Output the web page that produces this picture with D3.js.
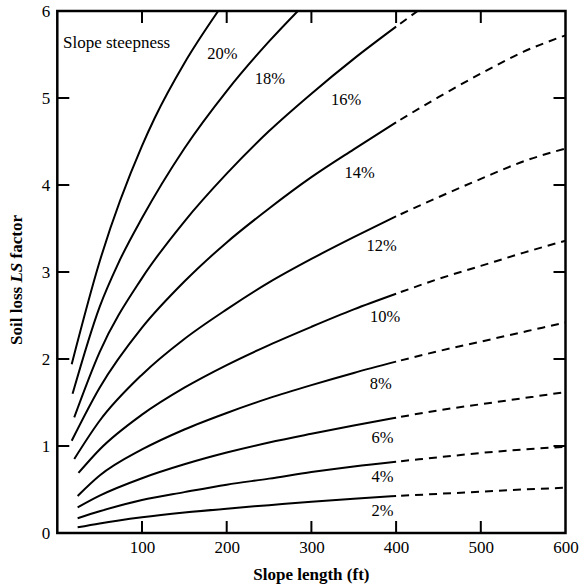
<!DOCTYPE html>
<html><head><meta charset="utf-8">
<script src="https://cdn.jsdelivr.net/npm/d3@7"></script>
<style>body{margin:0;background:#fff}svg{display:block}</style>
</head><body>
<svg id="c" width="580" height="588"></svg>
<script>
// ---- data ----
const slopeLabels = ["2%","4%","6%","8%","10%","12%","14%","16%","18%","20%"];
const solidLengths = [
  [24,50,100,150,200,250,300,350,400],
  [24,50,100,150,200,250,300,350,400],
  [24,50,100,150,200,250,300,350,400],
  [24,50,100,150,200,250,300,350,400],
  [25,50,100,150,200,250,300,350,400],
  [20,50,100,150,200,250,300,350,400],
  [17,50,100,150,200,250,300,350,400],
  [20,50,100,150,200,250,300,350,400],
  [18,50,72,100,150,200,250,284],
  [17,50,100,115,150,190]
];
const solidValues = [
  [0.065,0.11,0.18,0.235,0.28,0.32,0.36,0.395,0.425],
  [0.17,0.25,0.38,0.47,0.555,0.625,0.70,0.765,0.82],
  [0.295,0.43,0.63,0.79,0.925,1.04,1.14,1.235,1.325],
  [0.425,0.66,0.96,1.19,1.38,1.55,1.70,1.84,1.97],
  [0.69,0.96,1.36,1.67,1.93,2.16,2.37,2.57,2.75],
  [0.85,1.29,1.82,2.23,2.57,2.88,3.15,3.40,3.64],
  [1.06,1.67,2.36,2.89,3.34,3.73,4.09,4.41,4.72],
  [1.33,2.08,2.93,3.58,4.13,4.62,5.05,5.45,5.82],
  [1.60,2.60,3.10,3.62,4.42,5.08,5.65,6.0],
  [1.94,3.12,4.45,4.77,5.40,6.0]
];
const dashLengths = [400,450,500,550,600];
const dashValues = [
  [0.425,0.45,0.475,0.50,0.52],
  [0.82,0.87,0.92,0.96,0.99],
  [1.325,1.41,1.48,1.55,1.62],
  [1.97,2.09,2.20,2.31,2.42],
  [2.75,2.92,3.07,3.22,3.36],
  [3.64,3.86,4.07,4.27,4.42],
  [4.72,5.01,5.28,5.53,5.72],
  [5.82,6.17,6.50,6.82,7.13],
  null,
  null
];
const xTicks = [100,200,300,400,500,600];
const yTicks = [0,1,2,3,4,5,6];

// ---- layout ----
const labelAnchors = [[384,0.253],[384,0.655],[384,1.10],[382,1.72],[387,2.49],[383,3.31],[357,4.14],[341,4.98],[251,5.22],[195,5.51]];
const svg = d3.select("#c");
const x = d3.scaleLinear().domain([0,600]).range([57.3,565.5]);
const y = d3.scaleLinear().domain([0,6]).range([533,11]);
const serif = "'Liberation Serif','Times New Roman',serif";

svg.append("defs").append("clipPath").attr("id","pc")
  .append("rect").attr("x",x(0)).attr("y",y(6)).attr("width",x(600)-x(0)).attr("height",y(0)-y(6));

const line = d3.line().x(d=>x(d[0])).y(d=>y(d[1])).curve(d3.curveMonotoneX);
const g = svg.append("g").attr("clip-path","url(#pc)");
slopeLabels.forEach((s,i)=>{
  const pts = solidLengths[i].map((L,j)=>[L,solidValues[i][j]]);
  g.append("path").attr("d",line(pts)).attr("fill","none").attr("stroke","#000").attr("stroke-width",2);
  if (dashValues[i]) {
    const dp = dashLengths.map((L,j)=>[L,dashValues[i][j]]);
    g.append("path").attr("d",line(dp)).attr("fill","none").attr("stroke","#000")
      .attr("stroke-width",2).attr("stroke-dasharray","8,6").attr("stroke-dashoffset",-5);
  }
  svg.append("text").attr("x",x(labelAnchors[i][0])).attr("y",y(labelAnchors[i][1]))
    .attr("text-anchor","middle").attr("dominant-baseline","central")
    .attr("font-family",serif).attr("font-size",16.5).text(s);
});

// axes
const ax = svg.append("g");
const bottom = d3.axisBottom(x).tickValues(xTicks).tickSize(0).tickPadding(8).tickFormat(d3.format("d"));
ax.append("g").attr("transform",`translate(0,${y(0)})`).call(bottom)
  .call(a=>{a.select(".domain").remove();a.attr("font-family",serif).attr("font-size",17);});
const left = d3.axisLeft(y).tickValues(yTicks).tickSize(0).tickPadding(7).tickFormat(d3.format("d"));
ax.append("g").attr("transform",`translate(${x(0)},0)`).call(left)
  .call(a=>{a.select(".domain").remove();a.attr("font-family",serif).attr("font-size",17);});
ax.selectAll("text").attr("fill","#000");

// inward ticks
const tk = svg.append("g").attr("stroke","#000").attr("stroke-width",2);
[100,200,300,400,500].forEach(v=>{
  tk.append("line").attr("x1",x(v)).attr("x2",x(v)).attr("y1",y(0)).attr("y2",y(0)-12);
  tk.append("line").attr("x1",x(v)).attr("x2",x(v)).attr("y1",y(6)).attr("y2",y(6)+12);
});
[1,2,3,4,5].forEach(v=>{
  tk.append("line").attr("x1",x(0)).attr("x2",x(0)+12).attr("y1",y(v)).attr("y2",y(v));
  tk.append("line").attr("x1",x(600)).attr("x2",x(600)-12).attr("y1",y(v)).attr("y2",y(v));
});
svg.append("rect").attr("x",x(0)).attr("y",y(6)).attr("width",x(600)-x(0)).attr("height",y(0)-y(6))
  .attr("fill","none").attr("stroke","#000").attr("stroke-width",2.5);

svg.append("text").attr("x",63).attr("y",42).attr("dominant-baseline","central")
  .attr("font-family",serif).attr("font-size",17).text("Slope steepness");

svg.append("text").attr("x",(x(0)+x(600))/2).attr("y",580).attr("text-anchor","middle")
  .attr("font-family",serif).attr("font-size",17).attr("font-weight","bold").text("Slope length (ft)");

const yt = svg.append("text").attr("transform","translate(22,280) rotate(-90)").attr("text-anchor","middle")
  .attr("font-family",serif).attr("font-size",17).attr("font-weight","bold");
yt.append("tspan").text("Soil loss ");
yt.append("tspan").attr("font-style","italic").text("LS");
yt.append("tspan").text(" factor");
</script>
</body></html>
